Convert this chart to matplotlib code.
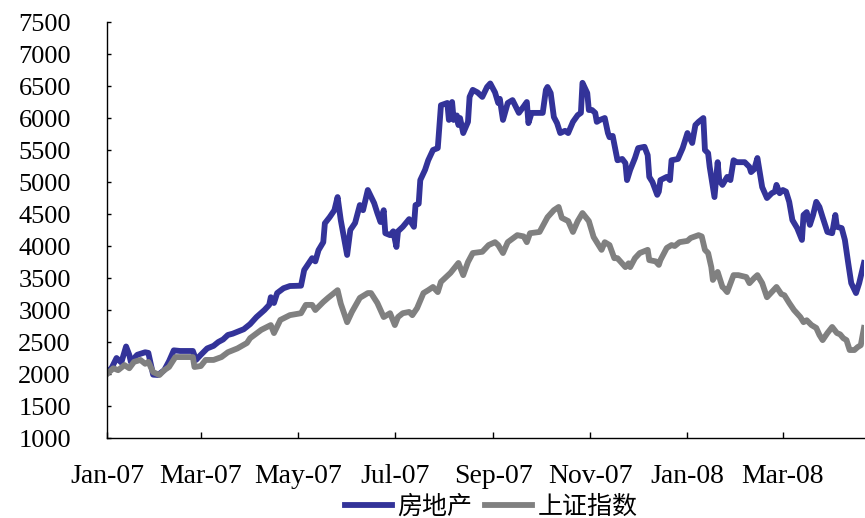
import matplotlib
matplotlib.use('Agg')
import matplotlib.pyplot as plt
import matplotlib.dates as mdates
import pandas as pd

plt.rcParams['font.family'] = ['Liberation Serif', 'Noto Sans CJK SC']

# 房地产 (real estate index, rebased)
re_dates = ['2007-01-04', '2007-01-07', '2007-01-10', '2007-01-13', '2007-01-16', '2007-01-18',
            '2007-01-19', '2007-01-23', '2007-01-28', '2007-01-30', '2007-02-02', '2007-02-05',
            '2007-02-09', '2007-02-12', '2007-02-15', '2007-02-19', '2007-02-27', '2007-03-01',
            '2007-03-04', '2007-03-08', '2007-03-12', '2007-03-15', '2007-03-18', '2007-03-21',
            '2007-03-24', '2007-03-27', '2007-03-31', '2007-04-04', '2007-04-08', '2007-04-13',
            '2007-04-16', '2007-04-17', '2007-04-19', '2007-04-21', '2007-04-25', '2007-04-29',
            '2007-05-06', '2007-05-08', '2007-05-11', '2007-05-13', '2007-05-15', '2007-05-17',
            '2007-05-20', '2007-05-21', '2007-05-24', '2007-05-27', '2007-05-29', '2007-05-31',
            '2007-06-04', '2007-06-06', '2007-06-09', '2007-06-12', '2007-06-14', '2007-06-17',
            '2007-06-21', '2007-06-23', '2007-06-25', '2007-06-27', '2007-06-28', '2007-07-01',
            '2007-07-03', '2007-07-05', '2007-07-06', '2007-07-09', '2007-07-13', '2007-07-16',
            '2007-07-17', '2007-07-19', '2007-07-20', '2007-07-23', '2007-07-25', '2007-07-28',
            '2007-07-31', '2007-08-02', '2007-08-06', '2007-08-07', '2007-08-09', '2007-08-10',
            '2007-08-12', '2007-08-13', '2007-08-14', '2007-08-16', '2007-08-19', '2007-08-20',
            '2007-08-22', '2007-08-25', '2007-08-28', '2007-08-31', '2007-09-02', '2007-09-05',
            '2007-09-07', '2007-09-08', '2007-09-10', '2007-09-13', '2007-09-16', '2007-09-20',
            '2007-09-23', '2007-09-25', '2007-09-26', '2007-09-28', '2007-10-05', '2007-10-07',
            '2007-10-08', '2007-10-10', '2007-10-12', '2007-10-14', '2007-10-16', '2007-10-19',
            '2007-10-21', '2007-10-24', '2007-10-27', '2007-10-29', '2007-10-30', '2007-11-02',
            '2007-11-03', '2007-11-05', '2007-11-07', '2007-11-08', '2007-11-10', '2007-11-13',
            '2007-11-15', '2007-11-16', '2007-11-18', '2007-11-21', '2007-11-24', '2007-11-26',
            '2007-11-27', '2007-11-29', '2007-12-02', '2007-12-04', '2007-12-08', '2007-12-10',
            '2007-12-11', '2007-12-13', '2007-12-16', '2007-12-17', '2007-12-18', '2007-12-22',
            '2007-12-24', '2007-12-25', '2007-12-29', '2008-01-01', '2008-01-02', '2008-01-04',
            '2008-01-07', '2008-01-09', '2008-01-11', '2008-01-14', '2008-01-15', '2008-01-17',
            '2008-01-18', '2008-01-19', '2008-01-21', '2008-01-23', '2008-01-24', '2008-01-26',
            '2008-01-29', '2008-01-31', '2008-02-02', '2008-02-04', '2008-02-09', '2008-02-12',
            '2008-02-13', '2008-02-15', '2008-02-17', '2008-02-20', '2008-02-23', '2008-02-26',
            '2008-02-28', '2008-02-29', '2008-03-02', '2008-03-04', '2008-03-06', '2008-03-08',
            '2008-03-10', '2008-03-13', '2008-03-16', '2008-03-17', '2008-03-19', '2008-03-21',
            '2008-03-23', '2008-03-25', '2008-03-27', '2008-03-29', '2008-04-01', '2008-04-04',
            '2008-04-06', '2008-04-07', '2008-04-10', '2008-04-12', '2008-04-14', '2008-04-16',
            '2008-04-19', '2008-04-21', '2008-04-24']
re_vals = [2020, 2100, 2250, 2180, 2430, 2300, 2190, 2300, 2340, 2330, 1990, 1985,
           2060, 2200, 2370, 2360, 2360, 2220, 2300, 2400, 2440, 2500, 2540, 2610,
           2630, 2660, 2700, 2780, 2890, 3000, 3080, 3200, 3110, 3265, 3340, 3375,
           3380, 3625, 3735, 3810, 3760, 3935, 4060, 4355, 4450, 4560, 4765, 4405,
           3860, 4250, 4360, 4640, 4560, 4875, 4670, 4515, 4375, 4560, 4200, 4170,
           4230, 3985, 4230, 4300, 4420, 4300, 4640, 4660, 5030, 5190, 5340, 5500,
           5530, 6200, 6235, 5970, 6250, 5970, 6040, 5890, 6000, 5765, 5940, 6330,
           6440, 6400, 6330, 6485, 6540, 6400, 6235, 6300, 5970, 6235, 6280, 6080,
           6180, 6250, 5920, 6080, 6080, 6440, 6485, 6390, 6015, 5920, 5765, 5800,
           5765, 5940, 6045, 6080, 6550, 6390, 6125, 6125, 6080, 5940, 5970, 6000,
           5765, 5700, 5720, 5340, 5360, 5295, 5030, 5190, 5375, 5530, 5550, 5420,
           5080, 5000, 4800, 4850, 5030, 5080, 5030, 5340, 5360, 5530, 5610, 5765,
           5610, 5890, 5940, 6000, 5500, 5450, 5235, 5080, 4765, 5310, 5030, 4955,
           5080, 5030, 5340, 5310, 5310, 5235, 5155, 5200, 5375, 4920, 4750, 4825,
           4850, 4955, 4825, 4875, 4850, 4690, 4405, 4280, 4095, 4485, 4530, 4330,
           4485, 4690, 4610, 4450, 4220, 4200, 4485, 4300, 4280, 4095, 3750, 3420,
           3265, 3420, 3735]

# 上证指数 (Shanghai composite, rebased)
sh_dates = ['2007-01-04', '2007-01-08', '2007-01-11', '2007-01-15', '2007-01-18', '2007-01-21',
            '2007-01-25', '2007-01-28', '2007-01-30', '2007-02-02', '2007-02-06', '2007-02-09',
            '2007-02-12', '2007-02-16', '2007-02-23', '2007-02-27', '2007-02-28', '2007-03-04',
            '2007-03-07', '2007-03-12', '2007-03-17', '2007-03-21', '2007-03-27', '2007-04-02',
            '2007-04-04', '2007-04-11', '2007-04-17', '2007-04-19', '2007-04-23', '2007-04-29',
            '2007-05-06', '2007-05-09', '2007-05-13', '2007-05-15', '2007-05-20', '2007-05-23',
            '2007-05-29', '2007-05-31', '2007-06-04', '2007-06-07', '2007-06-12', '2007-06-17',
            '2007-06-19', '2007-06-23', '2007-06-27', '2007-07-01', '2007-07-04', '2007-07-06',
            '2007-07-09', '2007-07-13', '2007-07-15', '2007-07-18', '2007-07-22', '2007-07-25',
            '2007-07-28', '2007-07-31', '2007-08-02', '2007-08-08', '2007-08-13', '2007-08-16',
            '2007-08-19', '2007-08-22', '2007-08-28', '2007-09-01', '2007-09-05', '2007-09-07',
            '2007-09-10', '2007-09-13', '2007-09-19', '2007-09-23', '2007-09-25', '2007-09-27',
            '2007-10-03', '2007-10-08', '2007-10-12', '2007-10-15', '2007-10-17', '2007-10-21',
            '2007-10-24', '2007-10-27', '2007-10-30', '2007-11-03', '2007-11-06', '2007-11-08',
            '2007-11-11', '2007-11-13', '2007-11-16', '2007-11-19', '2007-11-21', '2007-11-26',
            '2007-11-28', '2007-11-29', '2007-12-02', '2007-12-05', '2007-12-10', '2007-12-11',
            '2007-12-15', '2007-12-17', '2007-12-18', '2007-12-22', '2007-12-25', '2007-12-27',
            '2007-12-30', '2008-01-04', '2008-01-06', '2008-01-11', '2008-01-13', '2008-01-15',
            '2008-01-17', '2008-01-19', '2008-01-20', '2008-01-23', '2008-01-26', '2008-01-27',
            '2008-01-29', '2008-02-02', '2008-02-05', '2008-02-10', '2008-02-12', '2008-02-15',
            '2008-02-17', '2008-02-20', '2008-02-23', '2008-02-26', '2008-02-29', '2008-03-03',
            '2008-03-05', '2008-03-08', '2008-03-11', '2008-03-15', '2008-03-17', '2008-03-19',
            '2008-03-22', '2008-03-25', '2008-03-27', '2008-03-29', '2008-04-01', '2008-04-04',
            '2008-04-07', '2008-04-09', '2008-04-11', '2008-04-13', '2008-04-15', '2008-04-18',
            '2008-04-20', '2008-04-22', '2008-04-24']
sh_vals = [2000, 2090, 2060, 2140, 2090, 2190, 2220, 2160, 2190, 2030, 1985, 2060,
           2110, 2265, 2265, 2265, 2110, 2125, 2220, 2220, 2265, 2340, 2400, 2485,
           2560, 2690, 2765, 2640, 2845, 2920, 2950, 3080, 3080, 3000, 3125, 3190,
           3310, 3100, 2810, 2970, 3190, 3265, 3265, 3110, 2890, 2950, 2765, 2890,
           2950, 2970, 2920, 3030, 3265, 3310, 3360, 3280, 3440, 3580, 3735, 3545,
           3750, 3890, 3910, 4015, 4060, 4015, 3890, 4060, 4170, 4150, 4060, 4200,
           4220, 4450, 4560, 4610, 4440, 4390, 4220, 4390, 4515, 4390, 4140, 4060,
           3940, 4060, 4015, 3810, 3810, 3670, 3730, 3670, 3810, 3890, 3940, 3780,
           3760, 3705, 3780, 3970, 4015, 4000, 4060, 4080, 4125, 4170, 4150, 3940,
           3890, 3670, 3470, 3595, 3360, 3340, 3280, 3545, 3545, 3515, 3420, 3500,
           3545, 3420, 3200, 3280, 3360, 3250, 3230, 3110, 3000, 2890, 2810, 2840,
           2765, 2720, 2610, 2530, 2640, 2735, 2640, 2620, 2560, 2530, 2375, 2375,
           2420, 2450, 2720]

y_ticks = list(range(1000, 7501, 500))
legend_labels = ['房地产', '上证指数']

fig = plt.figure(figsize=(8.65, 5.18), dpi=100)
ax = fig.add_axes([0.1237, 0.1544, 0.8751, 0.8031])

ax.plot(pd.to_datetime(re_dates), re_vals, color='#333399', lw=4.2,
        solid_joinstyle='round', label=legend_labels[0])
ax.plot(pd.to_datetime(sh_dates), sh_vals, color='#808080', lw=4.2,
        solid_joinstyle='round', label=legend_labels[1])

ax.set_xlim(pd.Timestamp('2007-01-04'), pd.Timestamp('2008-04-24'))
ax.set_ylim(1000, 7500)
ax.set_yticks(y_ticks)
ax.set_xticks(pd.to_datetime(['2007-01-04', '2007-03-04', '2007-05-04', '2007-07-04',
                              '2007-09-04', '2007-11-04', '2008-01-04', '2008-03-04']))
ax.xaxis.set_major_formatter(mdates.DateFormatter('%b-%y'))

for s in ['top', 'right']:
    ax.spines[s].set_visible(False)
for s in ['left', 'bottom']:
    ax.spines[s].set_linewidth(1.0)
ax.tick_params(axis='y', direction='in', length=3, width=1, pad=26, labelsize=19)
ax.tick_params(axis='x', direction='in', length=4.5, width=1, pad=19, labelsize=20)

fig.legend(loc='center', bbox_to_anchor=(491 / 865, 1 - 507 / 518), ncol=2,
           frameon=False, fontsize=18, handlelength=1.9, handletextpad=0.2,
           columnspacing=0.5, borderaxespad=0)

fig.savefig('out.png', dpi=100)
